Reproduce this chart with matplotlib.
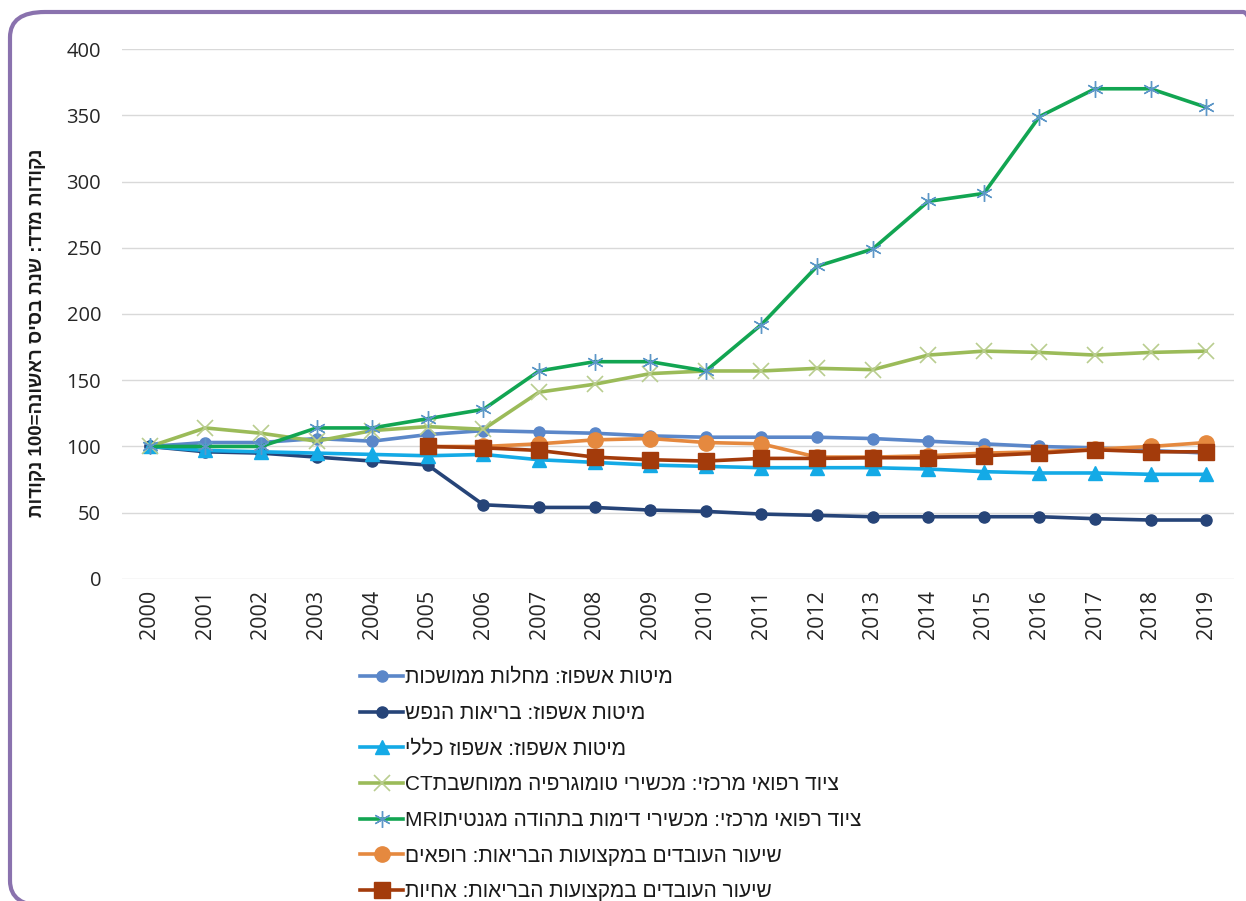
"""
plot.py: hospital beds / equipment / workforce index, base year = 100
"""

import re
import matplotlib
matplotlib.use('Agg')
import matplotlib.pyplot as plt
from matplotlib.patches import FancyBboxPatch

HEB_FONT = ['Liberation Sans', 'DejaVu Sans']
NUM_FONT = ['Open Sans', 'DejaVu Sans']

years = list(range(2000, 2020))
years_staff = list(range(2005, 2020))

# index values
beds_chronic = [100, 103, 103, 106, 104, 109, 112, 111, 110, 108, 107, 107, 107, 106, 104, 102, 100, 99, 97, 95]
beds_mental = [100, 96, 95, 92, 89, 86, 56, 54, 54, 52, 51, 49, 48, 47, 47, 47, 47, 45.5, 44.5, 44.5]
beds_general = [100, 97, 96, 95, 94, 93, 94, 90, 88, 86, 85, 84, 84, 84, 83, 81, 80, 80, 79, 79]
ct_devices = [100, 114, 110, 104, 112, 115, 113, 141, 147, 155, 157, 157, 159, 158, 169, 172, 171, 169, 171, 172]
mri_devices = [100, 100, 100, 114, 114, 121, 128, 157, 164, 164, 157, 192, 236, 249, 285, 291, 349, 370, 370, 356]
doctors = [100, 100, 102, 105, 106, 103, 102, 92, 92, 93, 95, 96, 98, 100, 103]
nurses = [100, 99, 97, 92, 90, 89, 91, 91, 91.5, 91.5, 93, 95, 97.5, 96, 96]

labels = [
    'מיטות אשפוז: מחלות ממושכות',
    'מיטות אשפוז: בריאות הנפש',
    'מיטות אשפוז: אשפוז כללי',
    'ציוד רפואי מרכזי: מכשירי טומוגרפיה ממוחשבתCT',
    'ציוד רפואי מרכזי: מכשירי דימות בתהודה מגנטיתMRI',
    'שיעור העובדים במקצועות הבריאות: רופאים',
    'שיעור העובדים במקצועות הבריאות: אחיות',
]
y_label = 'נקודות מדד: שנת בסיס ראשונה=100 נקודות'


def heb(s):
    # matplotlib has no bidi support: reverse to visual order, keep latin/digit runs
    r = s[::-1]
    return re.sub(r'[A-Za-z0-9]+', lambda m: m.group(0)[::-1], r)


fig = plt.figure(figsize=(12.46, 9.01), dpi=100)
ax = fig.add_axes([0.0979, 0.3574, 0.8925, 0.5882])

# purple rounded frame (right and bottom edges sit just outside the picture)
frame = FancyBboxPatch((10 / 1246, -5 / 901), 1268 / 1246, 1 - 7 / 901,
                       boxstyle='round,pad=0,rounding_size=0.028',
                       transform=fig.transFigure, fill=False,
                       edgecolor='#8A72AE', linewidth=3, zorder=0)
fig.patches.append(frame)

x_all = list(range(len(years)))
x_staff = [years.index(y) for y in years_staff]

lw = 2.6
ax.plot(x_all, beds_chronic, color='#5B87C9', lw=lw, marker='o', ms=8, label=heb(labels[0]))
ax.plot(x_all, beds_mental, color='#264478', lw=lw, marker='o', ms=8, label=heb(labels[1]))
ax.plot(x_all, beds_general, color='#14AAE6', lw=lw, marker='^', ms=10, label=heb(labels[2]))
ax.plot(x_all, ct_devices, color='#9BBB59', lw=lw, marker='x', ms=11, mew=1.2,
        mec='#B9CD8F', label=heb(labels[3]))
ax.plot(x_all, mri_devices, color='#12A552', lw=lw, marker=(6, 2, 0), ms=12, mew=1.0,
        mec='#5D97C8', label=heb(labels[4]))
ax.plot(x_staff, doctors, color='#E5893F', lw=lw, marker='o', ms=11, label=heb(labels[5]))
ax.plot(x_staff, nurses, color='#A33B0B', lw=lw, marker='s', ms=11, label=heb(labels[6]))

ax.set_xlim(-0.5, len(years) - 0.5)
ax.set_ylim(0, 400)
ax.set_yticks(range(0, 401, 50))
ax.set_xticks(x_all)
ax.set_xticklabels([str(y) for y in years], rotation=90, family=NUM_FONT, fontsize=15.5)
for t in ax.get_yticklabels():
    t.set_family(NUM_FONT)
    t.set_fontsize(14.5)
ax.tick_params(axis='both', length=0, colors='#262626')
ax.tick_params(axis='y', pad=15)
ax.tick_params(axis='x', pad=8)
ax.grid(axis='y', color='#D9D9D9', lw=1)
ax.set_axisbelow(True)
for side in ['top', 'right', 'left', 'bottom']:
    ax.spines[side].set_visible(False)

fig.text(38 / 1246, 1 - 333 / 901, heb(y_label), rotation=90, ha='center', va='center',
         family=HEB_FONT, fontsize=13.5, fontweight='bold', color='#1A1A1A')

fig.legend(loc='upper left', bbox_to_anchor=(352 / 1246, 1 - 660 / 901), frameon=False,
           prop={'family': HEB_FONT, 'size': 15}, handlelength=2.05, handletextpad=0.1,
           labelspacing=0.8, borderaxespad=0, labelcolor='#1A1A1A')

fig.savefig('out.png', dpi=100)
